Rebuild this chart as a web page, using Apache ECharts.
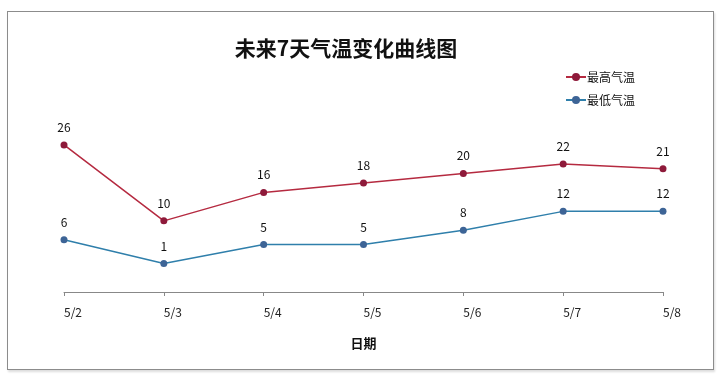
<!DOCTYPE html>
<html><head><meta charset="utf-8">
<script src="https://cdn.jsdelivr.net/npm/echarts@6/dist/echarts.min.js"></script>
<style>html,body{margin:0;padding:0;background:#fff;}#c{width:720px;height:379px;}
#frame{position:absolute;left:7px;top:11px;width:705px;height:357px;border:1px solid #8c8c8c;box-shadow:1px 2px 2px #ddd;pointer-events:none;}</style>
</head><body><div id="c"></div><div id="frame"></div>
<script>
const categories = ['5/2','5/3','5/4','5/5','5/6','5/7','5/8'];
const highTemps = [26, 10, 16, 18, 20, 22, 21];
const lowTemps = [6, 1, 5, 5, 8, 12, 12];
const seriesNames = ['最高气温', '最低气温'];

const chart = echarts.init(document.getElementById('c'), null, {renderer:'canvas'});
const font = '"Noto Sans CJK SC", "Noto Sans", sans-serif';
chart.setOption({
  backgroundColor: '#fff',
  animation: false,
  title: {
    text: '未来7天气温变化曲线图', left: 341, top: 33, textAlign: 'center',
    textStyle: {fontFamily: font, fontSize: 21, fontWeight: 'bold', color: '#111'}
  },
  legend: {
    orient: 'vertical', left: 560, top: 66, itemWidth: 20, itemHeight: 10, itemGap: 11,
    textStyle: {fontFamily: font, fontSize: 12, color: '#111', padding: [0,0,0,-4]},
    data: seriesNames
  },
  grid: {left: 64, right: 57, top: 126, bottom: 87},
  xAxis: {
    type: 'category', data: categories, boundaryGap: false,
    name: '日期', nameLocation: 'middle', nameGap: 45,
    nameTextStyle: {fontFamily: font, fontSize: 13, fontWeight: 'bold', color: '#111'},
    axisLine: {onZero: false, lineStyle: {color: '#888', width: 1}},
    axisTick: {show: true, length: 4, lineStyle: {color: '#888'}},
    axisLabel: {fontFamily: font, fontSize: 12, color: '#222', margin: 14, align: 'left'}
  },
  yAxis: {type: 'value', min: -5, max: 30, show: false, splitLine: {show: false}},
  series: [
    {
      name: seriesNames[0], type: 'line', data: highTemps,
      symbol: 'circle', symbolSize: 7,
      lineStyle: {color: '#b52a40', width: 1.5},
      itemStyle: {color: '#8e1a3a'},
      label: {show: true, position: 'top', distance: 8, fontFamily: font, fontSize: 12, color: '#111'}
    },
    {
      name: seriesNames[1], type: 'line', data: lowTemps,
      symbol: 'circle', symbolSize: 7,
      lineStyle: {color: '#2f7fab', width: 1.5},
      itemStyle: {color: '#3d6496'},
      label: {show: true, position: 'top', distance: 8, fontFamily: font, fontSize: 12, color: '#111'}
    }
  ]
});
</script>
</body></html>
